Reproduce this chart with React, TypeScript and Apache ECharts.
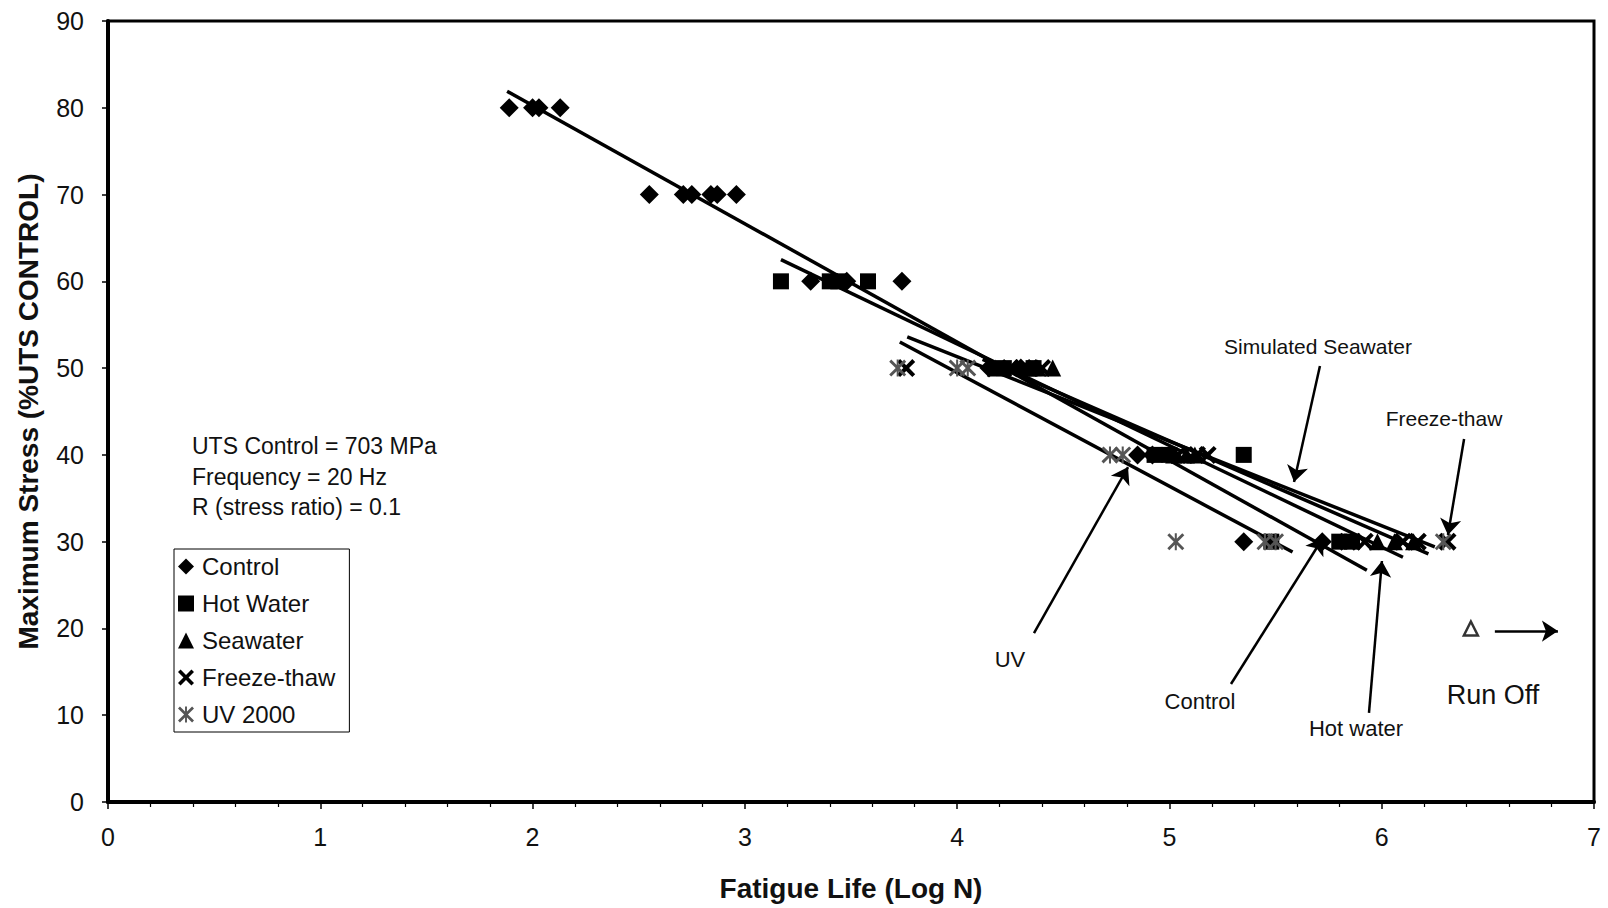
import React, { useEffect, useRef } from "react";
import * as echarts from "echarts";

// ---- data ----
const xTickLabels = ["0", "1", "2", "3", "4", "5", "6", "7"];
const yTickLabels = ["0", "10", "20", "30", "40", "50", "60", "70", "80", "90"];
const seriesNames = ["Control", "Hot Water", "Seawater", "Freeze-thaw", "UV 2000"];

const controlPts: [number, number][] = [
  [1.89, 80], [2.0, 80], [2.03, 80], [2.13, 80],
  [2.55, 70], [2.71, 70], [2.75, 70], [2.84, 70], [2.87, 70], [2.96, 70],
  [3.31, 60], [3.48, 60], [3.74, 60],
  [4.15, 50], [4.3, 50],
  [4.85, 40], [4.92, 40],
  [5.35, 30], [5.72, 30],
];
const hotWaterPts: [number, number][] = [
  [3.17, 60], [3.4, 60], [3.44, 60], [3.58, 60],
  [4.22, 50], [4.36, 50],
  [4.93, 40], [5.0, 40], [5.35, 40],
  [5.48, 30], [5.8, 30], [5.86, 30],
];
const seawaterPts: [number, number][] = [
  [4.18, 50], [4.34, 50], [4.38, 50], [4.45, 50],
  [5.02, 40], [5.08, 40], [5.12, 40],
  [5.98, 30], [6.06, 30], [6.15, 30],
];
const freezePts: [number, number][] = [
  [3.76, 50], [4.25, 50], [4.31, 50], [4.4, 50],
  [5.04, 40], [5.13, 40], [5.18, 40],
  [5.84, 30], [5.92, 30], [6.1, 30], [6.17, 30], [6.31, 30],
];
const uvPts: [number, number][] = [
  [3.72, 50], [4.0, 50], [4.05, 50],
  [4.72, 40], [4.78, 40],
  [5.03, 30], [5.45, 30], [5.5, 30], [6.29, 30],
];
const runOffPts: [number, number][] = [[6.42, 20]];

// trend lines (end points)
const controlFit: [number, number][] = [[1.88, 81.9], [5.93, 26.7]];
const hotWaterFit: [number, number][] = [[3.17, 62.5], [6.1, 28.2]];
const seawaterFit: [number, number][] = [[4.12, 51.0], [6.22, 28.6]];
const freezeFit: [number, number][] = [[3.765, 53.6], [6.25, 29.4]];
const uvFit: [number, number][] = [[3.73, 53.0], [5.58, 28.8]];

// annotation arrows [from, to] in data coords
const arrowFrom: [number, number][] = [
  [5.709, 50.24], [6.388, 41.83], [4.362, 19.47], [5.29, 13.6], [5.94, 10.26], [6.533, 19.7],
];
const arrowTo: [number, number][] = [
  [5.587, 36.87], [6.312, 30.77], [4.805, 38.6], [5.723, 30.42], [6.001, 27.77], [6.83, 19.7],
];

const FONT = "'Liberation Sans', Arial, Helvetica, sans-serif";

const X_SYMBOL =
  "path://M0,1.6L1.6,0L5,3.4L8.4,0L10,1.6L6.6,5L10,8.4L8.4,10L5,6.6L1.6,10L0,8.4L3.4,5Z";
const STAR_SYMBOL =
  "path://M0,1.2L1.2,0L5,3.8L8.8,0L10,1.2L6.2,5L10,8.8L8.8,10L5,6.2L1.2,10L0,8.8L3.8,5Z M4.4,0L5.6,0L5.6,10L4.4,10Z";

export default function App() {
  const ref = useRef<HTMLDivElement>(null);

  useEffect(() => {
    if (!ref.current) return;
    const chart = echarts.init(ref.current, undefined, { renderer: "svg" });

    const fitLine = (data: [number, number][]) => ({
      type: "line",
      data,
      showSymbol: false,
      symbol: "none",
      silent: true,
      lineStyle: { color: "#000", width: 3.5 },
      z: 3,
    });

    const scatter = (
      name: string,
      data: [number, number][],
      symbol: string,
      size: number,
      color: string
    ) => ({
      type: "scatter",
      name,
      data,
      symbol,
      symbolSize: size,
      itemStyle: { color, opacity: 1 },
      z: 4,
    });

    const text = (
      str: string,
      x: number,
      y: number,
      size: number,
      align: string = "center"
    ) => ({
      type: "text",
      x,
      y,
      z: 10,
      style: {
        text: str,
        fill: "#111",
        fontSize: size,
        fontFamily: FONT,
        align,
        verticalAlign: "middle",
      },
    });

    chart.setOption({
      animation: false,
      backgroundColor: "#fff",
      grid: {
        left: 108,
        right: 14,
        top: 21,
        bottom: 106,
        show: true,
        borderColor: "#000",
        borderWidth: 3,
        backgroundColor: "transparent",
      },
      legend: {
        data: seriesNames,
        orient: "vertical",
        left: 174,
        top: 549,
        padding: [5, 14, 5, 4],
        itemWidth: 16,
        itemHeight: 16,
        itemGap: 12,
        borderColor: "#000",
        borderWidth: 1,
        backgroundColor: "#fff",
        selectedMode: false,
        textStyle: {
          fontSize: 24,
          fontFamily: FONT,
          color: "#111",
          lineHeight: 25,
          padding: [0, 0, 0, 3],
        },
      },
      xAxis: {
        type: "value",
        min: 0,
        max: 7,
        interval: 1,
        name: "Fatigue Life (Log N)",
        nameLocation: "middle",
        nameGap: 72,
        nameTextStyle: { fontSize: 28, fontWeight: "bold", fontFamily: FONT, color: "#111" },
        axisLine: { show: true, onZero: false, lineStyle: { color: "#000", width: 4 } },
        axisTick: { show: true, inside: false, length: 7, lineStyle: { color: "#000", width: 1.5 } },
        minorTick: { show: true, splitNumber: 5, length: 5, lineStyle: { color: "#000", width: 1.2 } },
        splitLine: { show: false },
        axisLabel: {
          fontSize: 25,
          fontFamily: FONT,
          color: "#111",
          margin: 22,
          formatter: (v: number) => xTickLabels[Math.round(v)] ?? "",
        },
      },
      yAxis: {
        type: "value",
        min: 0,
        max: 90,
        interval: 10,
        name: "Maximum Stress (%UTS CONTROL)",
        nameLocation: "middle",
        nameGap: 66,
        nameRotate: 90,
        nameTextStyle: { fontSize: 28, fontWeight: "bold", fontFamily: FONT, color: "#111" },
        axisLine: { show: true, onZero: false, lineStyle: { color: "#000", width: 4 } },
        axisTick: { show: true, inside: false, length: 6, lineStyle: { color: "#000", width: 1.5 } },
        splitLine: { show: false },
        axisLabel: {
          fontSize: 25,
          fontFamily: FONT,
          color: "#111",
          margin: 24,
          formatter: (v: number) => yTickLabels[Math.round(v / 10)] ?? "",
        },
      },
      series: [
        scatter(seriesNames[0], controlPts, "diamond", 19, "#000"),
        scatter(seriesNames[1], hotWaterPts, "rect", 16, "#000"),
        scatter(seriesNames[2], seawaterPts, "triangle", 17, "#000"),
        scatter(seriesNames[3], freezePts, X_SYMBOL, 18, "#000"),
        scatter(seriesNames[4], uvPts, STAR_SYMBOL, 17, "#555"),
        {
          type: "scatter",
          name: "Run Off",
          data: runOffPts,
          symbol: "triangle",
          symbolSize: 14,
          itemStyle: { color: "#fff", borderColor: "#000", borderWidth: 2.5 },
          z: 5,
        },
        fitLine(controlFit),
        fitLine(hotWaterFit),
        fitLine(seawaterFit),
        fitLine(freezeFit),
        fitLine(uvFit),
        {
          type: "lines",
          coordinateSystem: "cartesian2d",
          silent: true,
          symbol: ["none", "arrow"],
          symbolSize: 16,
          lineStyle: { color: "#000", width: 2.5, opacity: 1 },
          data: arrowFrom.map((f, i) => ({ coords: [f, arrowTo[i]] })),
          z: 6,
        },
      ],
      graphic: [
        text("UTS Control = 703 MPa", 192, 446, 23, "left"),
        text("Frequency = 20 Hz", 192, 477, 23, "left"),
        text("R (stress ratio) = 0.1", 192, 507, 23, "left"),
        text("Simulated Seawater", 1318, 346, 21),
        text("Freeze-thaw", 1444, 418, 21),
        text("UV", 1010, 659, 22),
        text("Control", 1200, 701, 22),
        text("Hot water", 1356, 728, 22),
        text("Run Off", 1493, 695, 27),
      ],
    });

    return () => chart.dispose();
  }, []);

  return (
    <div
      ref={ref}
      style={{ position: "fixed", left: 0, top: 0, width: 1608, height: 908, background: "#fff" }}
    />
  );
}
